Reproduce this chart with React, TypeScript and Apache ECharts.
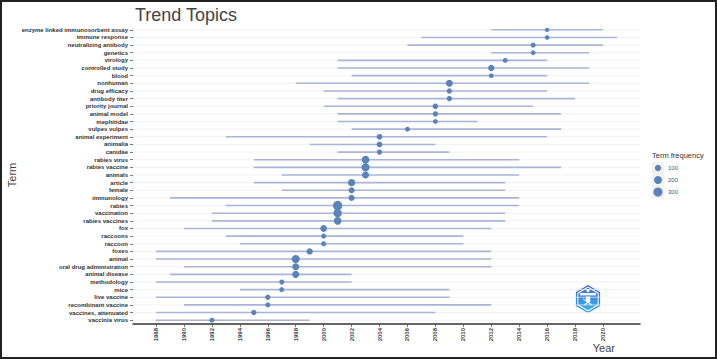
import React, { useEffect, useRef } from "react";
import * as echarts from "echarts";

const terms = [
  "enzyme linked immunosorbent assay",
  "immune response",
  "neutralizing antibody",
  "genetics",
  "virology",
  "controlled study",
  "blood",
  "nonhuman",
  "drug efficacy",
  "antibody titer",
  "priority journal",
  "animal model",
  "mephitidae",
  "vulpes vulpes",
  "animal experiment",
  "animalia",
  "canidae",
  "rabies virus",
  "rabies vaccine",
  "animals",
  "article",
  "female",
  "immunology",
  "rabies",
  "vaccination",
  "rabies vaccines",
  "fox",
  "raccoons",
  "raccoon",
  "foxes",
  "animal",
  "oral drug administration",
  "animal disease",
  "methodology",
  "mice",
  "live vaccine",
  "recombinant vaccine",
  "vaccines, attenuated",
  "vaccinia virus",
];

const startYears = [
  2012, 2007, 2006, 2012, 2001, 2001, 2002, 1998, 2000, 2001,
  2000, 2001, 2001, 2002, 1993, 1999, 2001, 1995, 1995, 1997,
  1995, 1997, 1989, 1993, 1992, 1992, 1990, 1993, 1994, 1988,
  1988, 1990, 1989, 1988, 1994, 1988, 1990, 1988, 1988,
];

const medianYears = [
  2016, 2016, 2015, 2015, 2013, 2012, 2012, 2009, 2009, 2009,
  2008, 2008, 2008, 2006, 2004, 2004, 2004, 2003, 2003, 2003,
  2002, 2002, 2002, 2001, 2001, 2001, 2000, 2000, 2000, 1999,
  1998, 1998, 1998, 1997, 1997, 1996, 1996, 1995, 1992,
];

const endYears = [
  2020, 2021, 2020, 2019, 2016, 2019, 2016, 2019, 2016, 2018,
  2015, 2017, 2011, 2017, 2016, 2008, 2009, 2014, 2017, 2014,
  2013, 2013, 2014, 2014, 2013, 2013, 2012, 2010, 2010, 2012,
  2012, 2012, 2002, 2002, 2009, 2009, 2012, 2008, 1999,
];

const frequencies = [
  56, 57, 62, 58, 60, 100, 57, 136, 67, 67,
  72, 67, 58, 60, 78, 78, 67, 185, 207, 136,
  155, 88, 88, 330, 230, 185, 120, 62, 62, 100,
  207, 136, 136, 62, 62, 67, 62, 67, 62,
];

const yearTicks = [
  1988, 1990, 1992, 1994, 1996, 1998, 2000, 2002, 2004,
  2006, 2008, 2010, 2012, 2014, 2016, 2018, 2020,
];

const legendValues = [100, 200, 300];

const FONT = "'Liberation Sans', Arial, sans-serif";
const DOT = "#5a84b9";
const SEG = "#a9b4d8";

const fMin = Math.min(...frequencies);
const fMax = Math.max(...frequencies);
const sizeFor = (f: number) =>
  4.3 + 5.1 * Math.sqrt(Math.max(0, (f - fMin) / (fMax - fMin)));

function hexPoints(cx: number, cy: number, r: number) {
  const pts: number[][] = [];
  for (let k = 0; k < 6; k++) {
    const a = (Math.PI / 180) * (90 + 60 * k);
    pts.push([cx + r * Math.cos(a), cy - r * Math.sin(a)]);
  }
  return pts;
}

export default function App() {
  const ref = useRef<HTMLDivElement>(null);

  useEffect(() => {
    if (!ref.current) return;
    const chart = echarts.init(ref.current, null, { renderer: "svg" });

    const lx = 652;
    const keyTop = 162;
    const legendGraphics: any[] = [
      {
        type: "text",
        left: lx,
        top: 151,
        style: { text: "Term frequency", fontSize: 7.5, fill: "#333", fontFamily: FONT },
      },
      {
        type: "rect",
        shape: { x: lx, y: keyTop, width: 12, height: 36 },
        style: { fill: "#f2f2f2" },
      },
    ];
    legendValues.forEach((v, k) => {
      const cy = keyTop + 6 + k * 12;
      legendGraphics.push({
        type: "circle",
        shape: { cx: lx + 6, cy, r: sizeFor(v) / 2 },
        style: { fill: DOT },
      });
      legendGraphics.push({
        type: "text",
        x: lx + 16,
        y: cy,
        style: {
          text: String(v),
          fontSize: 6,
          fill: "#555",
          fontFamily: FONT,
          verticalAlign: "middle",
        },
      });
    });

    const lcx = 588;
    const lcy = 299;
    const logo: any[] = [
      {
        type: "polygon",
        shape: { points: hexPoints(lcx, lcy, 14) },
        style: {
          fill: new echarts.graphic.LinearGradient(0, 0, 0, 1, [
            { offset: 0, color: "#4460c8" },
            { offset: 1, color: "#27a3e6" },
          ]),
        },
      },
      {
        type: "polygon",
        shape: { points: hexPoints(lcx, lcy, 12.4) },
        style: { fill: "#ffffff" },
      },
      {
        type: "polygon",
        shape: { points: hexPoints(lcx, lcy, 11.2) },
        style: {
          fill: new echarts.graphic.LinearGradient(0, 0, 0, 1, [
            { offset: 0, color: "#3c6fd2" },
            { offset: 1, color: "#3bb4f0" },
          ]),
        },
      },
      {
        type: "rect",
        shape: { x: lcx - 8, y: lcy - 6, width: 16, height: 2.4 },
        style: { fill: "#ffffff" },
      },
      {
        type: "circle",
        shape: { cx: lcx, cy: lcy - 8.5, r: 1.6 },
        style: { fill: "#ffffff" },
      },
      {
        type: "rect",
        shape: { x: lcx - 2.2, y: lcy - 2.5, width: 4.4, height: 5.5 },
        style: { fill: "#ffffff" },
      },
      {
        type: "polyline",
        shape: { points: [[lcx - 3.5, lcy + 6], [lcx, lcy + 3], [lcx + 3.5, lcy + 6]] },
        style: { stroke: "#ffffff", lineWidth: 1.2, fill: "none" },
      },
      {
        type: "line",
        shape: { x1: lcx - 5, y1: lcy, x2: lcx - 2.5, y2: lcy + 1.5 },
        style: { stroke: "#ffffff", lineWidth: 1 },
      },
    ];

    const option: any = {
      animation: false,
      backgroundColor: "#ffffff",
      textStyle: { fontFamily: FONT },
      title: {
        text: "Trend Topics",
        left: 130,
        top: 1,
        textStyle: { fontSize: 18, fontWeight: "normal", color: "#444", fontFamily: FONT },
      },
      grid: { left: 133, right: 77, top: 26, bottom: 35, containLabel: false },
      xAxis: {
        type: "value",
        min: 1986.35,
        max: 2022.65,
        axisLine: { show: true, lineStyle: { color: "#333", width: 1.5 } },
        axisTick: {
          show: true,
          customValues: yearTicks,
          length: 3,
          lineStyle: { color: "#555", width: 0.8 },
        },
        axisLabel: {
          show: true,
          customValues: yearTicks,
          formatter: (v: number) => String(v),
          rotate: 90,
          fontSize: 6,
          fontWeight: "bold",
          color: "#444",
          margin: 4,
          fontFamily: FONT,
        },
        splitLine: { show: false },
      },
      yAxis: {
        type: "category",
        data: terms,
        inverse: true,
        boundaryGap: true,
        axisLine: { show: false },
        axisTick: {
          show: true,
          alignWithLabel: true,
          interval: 0,
          length: 3,
          lineStyle: { color: "#555", width: 0.8 },
        },
        axisLabel: {
          interval: 0,
          fontSize: 6,
          fontWeight: "bold",
          color: "#333",
          margin: 5,
          fontFamily: FONT,
        },
        splitLine: { show: false },
      },
      series: [
        {
          type: "custom",
          z: 2,
          encode: { x: [0, 1], y: 2 },
          data: terms.map((t, i) => [startYears[i], endYears[i], i]),
          renderItem: (params: any, api: any) => {
            const yi = api.value(2);
            const a = api.coord([api.value(0), yi]);
            const b = api.coord([api.value(1), yi]);
            const cs = params.coordSys;
            return {
              type: "group",
              children: [
                {
                  type: "line",
                  shape: { x1: cs.x, y1: a[1], x2: cs.x + cs.width, y2: a[1] },
                  style: { stroke: "#ececec", lineWidth: 0.7 },
                },
                {
                  type: "line",
                  shape: { x1: a[0], y1: a[1], x2: b[0], y2: b[1] },
                  style: { stroke: SEG, lineWidth: 1.6 },
                },
              ],
            };
          },
        },
        {
          type: "scatter",
          z: 3,
          data: terms.map((t, i) => [medianYears[i], i, frequencies[i]]),
          symbolSize: (v: number[]) => sizeFor(v[2]),
          itemStyle: { color: DOT, opacity: 1 },
        },
      ],
      graphic: [
        {
          type: "text",
          x: 12,
          y: 175,
          rotation: Math.PI / 2,
          style: {
            text: "Term",
            fontSize: 11,
            fill: "#444",
            fontFamily: FONT,
            align: "center",
            verticalAlign: "middle",
          },
        },
        {
          type: "text",
          x: 615,
          y: 348,
          style: {
            text: "Year",
            fontSize: 11,
            fill: "#444",
            fontFamily: FONT,
            align: "right",
            verticalAlign: "middle",
          },
        },
        ...legendGraphics,
        ...logo,
        {
          type: "rect",
          shape: { x: 1, y: 1, width: 715, height: 357 },
          style: { fill: "none", stroke: "#222", lineWidth: 2 },
          z: 100,
        },
      ],
    };

    chart.setOption(option);
    return () => chart.dispose();
  }, []);

  return (
    <div
      ref={ref}
      style={{ position: "absolute", left: 0, top: 0, width: 717, height: 359, background: "#fff" }}
    />
  );
}
